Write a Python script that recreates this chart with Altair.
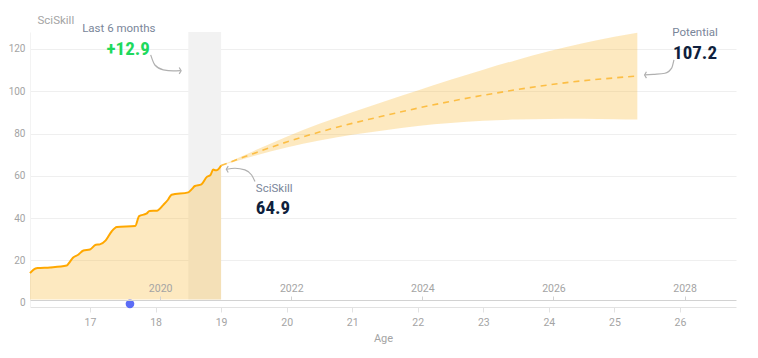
import altair as alt
import pandas as pd

# ---------------- data ----------------
hist_age = [16.085, 16.14, 16.20, 16.39, 16.645, 16.68, 16.74, 16.82, 16.90, 17.0,
            17.09, 17.15, 17.24, 17.33, 17.41, 17.69, 17.75, 17.86, 17.91, 18.02,
            18.12, 18.19, 18.245, 18.50, 18.55, 18.60, 18.70, 18.78, 18.84, 18.88,
            18.915, 18.94, 19.0]
hist_val = [14.0, 15.7, 16.4, 16.7, 17.6, 18.8, 21.3, 22.7, 24.7, 25.2,
            27.4, 27.6, 29.5, 33.7, 35.8, 36.3, 41.0, 42.1, 43.4, 43.5,
            46.3, 48.7, 51.1, 52.2, 53.6, 55.2, 56.0, 59.4, 60.5, 63.0,
            62.6, 62.7, 64.9]

proj_age = [19.0, 19.5, 20.0, 20.5, 21.0, 21.5, 22.0, 22.5, 23.0, 23.5, 24.0, 24.5, 25.0, 25.35]
proj_mid = [64.9, 70.6, 76.0, 80.7, 84.8, 88.5, 92.0, 95.2, 98.1, 100.7, 103.0, 104.9, 106.3, 107.2]
proj_hi = [64.9, 71.8, 78.5, 84.6, 90.1, 95.3, 100.3, 105.4, 110.2, 114.7, 118.9, 122.6, 125.7, 127.6]
proj_lo = [64.9, 69.4, 73.4, 76.7, 79.4, 81.6, 83.6, 85.0, 86.0, 86.6, 86.9, 87.0, 86.8, 86.6]

y_ticks = [0, 20, 40, 60, 80, 100, 120]
age_ticks = [17, 18, 19, 20, 21, 22, 23, 24, 25, 26]
year_ticks = [2020, 2022, 2024, 2026, 2028]
year_minus_age = 2001.93

band_start = [18.5]
band_end = [19.0]
now_age = [17.61]
now_val = [-0.5]

age_domain = [16.085, 26.855]
y_domain = [-2, 128]
base_val = 1.5

# annotation texts
label_6m = ["Last 6 months"]
label_6m_pos = [17.44, 129.6]
label_pot = ["Potential"]
label_pot_pos = [26.23, 127.4]
label_cur = ["SciSkill"]
label_cur_pos = [19.53, 54.0]

num_6m = ["+12.9"]
num_6m_pos = [17.915, 120.0]
num_pot = ["107.2"]
num_pot_pos = [26.23, 118.2]
num_cur = ["64.9"]
num_cur_pos = [19.53, 45.0]

# annotation arrows (age, value)
arrow_id = [1, 1, 1, 1, 1, 2, 2, 2, 2, 2, 3, 3, 3, 3, 3]
arrow_age = [17.926, 17.99, 18.118, 18.27, 18.383,
             25.908, 25.873, 25.771, 25.592, 25.466,
             19.085, 19.212, 19.364, 19.466, 19.517]
arrow_val = [117.2, 112.4, 110.1, 109.6, 109.7,
             114.8, 110.9, 108.5, 108.0, 107.7,
             63.1, 63.6, 62.8, 60.4, 57.3]
head_age = [18.39, 25.46, 19.08]
head_val = [109.7, 107.7, 63.1]
head_angle = [0, 180, 180]

FONT = "Roboto, sans-serif"
NUM_FONT = "Roboto Condensed, Liberation Sans Narrow, Roboto, sans-serif"
AXIS_GRAY = "#a4a4a4"
LABEL_COLOR = "#7a869a"
NAVY = "#0f1f3d"
GREEN = "#1ed95c"

# ---------------- frames ----------------
df_hist = pd.DataFrame({"age": hist_age, "value": hist_val})
df_proj = pd.DataFrame({"age": proj_age, "mid": proj_mid, "hi": proj_hi, "lo": proj_lo})
df_band = pd.DataFrame({"start": band_start, "end": band_end})
df_now = pd.DataFrame({"age": now_age, "value": now_val})
df_arrow = pd.DataFrame({"id": arrow_id, "age": arrow_age, "value": arrow_val})
df_head = pd.DataFrame({"age": head_age, "value": head_val, "angle": head_angle})
df_year = pd.DataFrame({"year": year_ticks})

xs = alt.Scale(domain=age_domain, nice=False, zero=False)
ys = alt.Scale(domain=y_domain, nice=False, zero=False)

age_axis = alt.Axis(values=age_ticks, title="Age", grid=False, format="d",
                    domainColor="#e2e2e2", tickColor="#e2e2e2", tickSize=5,
                    labelColor=AXIS_GRAY, labelFontSize=10.5, labelFont=FONT, labelPadding=5,
                    titleColor=AXIS_GRAY, titleFontSize=11, titleFont=FONT,
                    titleFontWeight="normal", titlePadding=5)

y_axis = alt.Axis(values=y_ticks, title="SciSkill", grid=True,
                  gridColor={"condition": {"test": "datum.value === 0", "value": "transparent"},
                             "value": "#efefef"},
                  ticks=False, tickSize=0, domain=True, domainColor="#f3f3f3",
                  labelColor=AXIS_GRAY, labelFontSize=10, labelFont=FONT, labelPadding=5,
                  titleAngle=0, titleX=7, titleY=-7, titleAlign="left", titleBaseline="bottom",
                  titleColor=AXIS_GRAY, titleFontSize=11.5, titleFont=FONT,
                  titleFontWeight="normal")


def X(f):
    return alt.X(f, scale=xs, axis=age_axis)


def Y(f):
    return alt.Y(f, scale=ys, axis=y_axis)


def text_layer(texts, pos, align, **style):
    df = pd.DataFrame({"age": [pos[0]], "value": [pos[1]], "text": texts})
    return alt.Chart(df).mark_text(align=align, baseline="middle", **style).encode(
        x=X("age:Q"), y=Y("value:Q"), text="text:N")


band = alt.Chart(df_band).mark_rect(color="#f2f2f2").encode(
    x=X("start:Q"), x2="end:Q",
    y=alt.YDatum(y_domain[1], scale=ys, axis=y_axis), y2=alt.Y2Datum(base_val))

hist_area = alt.Chart(df_hist).mark_area(color="#f8b62d", opacity=0.3, interpolate="monotone").encode(
    x=X("age:Q"), y=Y("value:Q"), y2=alt.Y2Datum(base_val))

proj_area = alt.Chart(df_proj).mark_area(color="#f8b62d", opacity=0.3, interpolate="monotone").encode(
    x=X("age:Q"), y=Y("hi:Q"), y2="lo:Q")

hist_line = alt.Chart(df_hist).mark_line(color="#ffa800", strokeWidth=2, interpolate="monotone").encode(
    x=X("age:Q"), y=Y("value:Q"))

proj_line = alt.Chart(df_proj).mark_line(color="#fcbe45", strokeWidth=1.6, strokeDash=[6, 5],
                                         interpolate="monotone").encode(
    x=X("age:Q"), y=Y("mid:Q"))

arrows = alt.Chart(df_arrow).mark_line(color="#b0b0b0", strokeWidth=1.2, interpolate="monotone").encode(
    x=X("age:Q"), y=Y("value:Q"), detail="id:N")

heads = alt.Chart(df_head).mark_point(shape="M-0.6,-1L0,0L-0.6,1", filled=False, size=40,
                                      color="#b0b0b0", strokeWidth=1.2, opacity=1).encode(
    x=X("age:Q"), y=Y("value:Q"), angle=alt.Angle("angle:Q", scale=None))

small_style = dict(font=FONT, fontSize=11.5, color=LABEL_COLOR)
big_style = dict(font=NUM_FONT, fontSize=19, fontWeight="bold")

texts = [
    text_layer(label_6m, label_6m_pos, "center", **small_style),
    text_layer(label_pot, label_pot_pos, "center", **small_style),
    text_layer(label_cur, label_cur_pos, "left", **small_style),
    text_layer(num_6m, num_6m_pos, "right", color=GREEN, **big_style),
    text_layer(num_pot, num_pot_pos, "center", color=NAVY, **big_style),
    text_layer(num_cur, num_cur_pos, "left", color=NAVY, **big_style),
]

now_dot = alt.Chart(df_now).mark_circle(size=75, color="#5b6cf6", opacity=1).encode(
    x=X("age:Q"), y=Y("value:Q"))

inner = alt.layer(band, hist_area, proj_area, hist_line, proj_line, arrows, heads,
                  *texts, now_dot)

year_layer = alt.Chart(df_year).mark_point(opacity=0).encode(
    x=alt.X("year:Q",
            scale=alt.Scale(domain=[age_domain[0] + year_minus_age, age_domain[1] + year_minus_age],
                            nice=False, zero=False),
            axis=alt.Axis(orient="top", offset=-268, values=year_ticks, format="d", grid=False,
                          title=None, domainColor="#d2d2d2", tickColor="#d2d2d2", tickSize=4,
                          labelColor=AXIS_GRAY, labelFontSize=10.5, labelFont=FONT, labelPadding=3,
                          zindex=1)))

chart = alt.layer(inner, year_layer).resolve_scale(x="independent").properties(
    width=706, height=275,
    autosize=alt.AutoSizeParams(type="none"),
    padding={"left": 22, "top": 24, "right": 14, "bottom": 42},
).configure_view(stroke=None)

chart.save("out.html", embed_options={"renderer": "svg", "actions": False})
